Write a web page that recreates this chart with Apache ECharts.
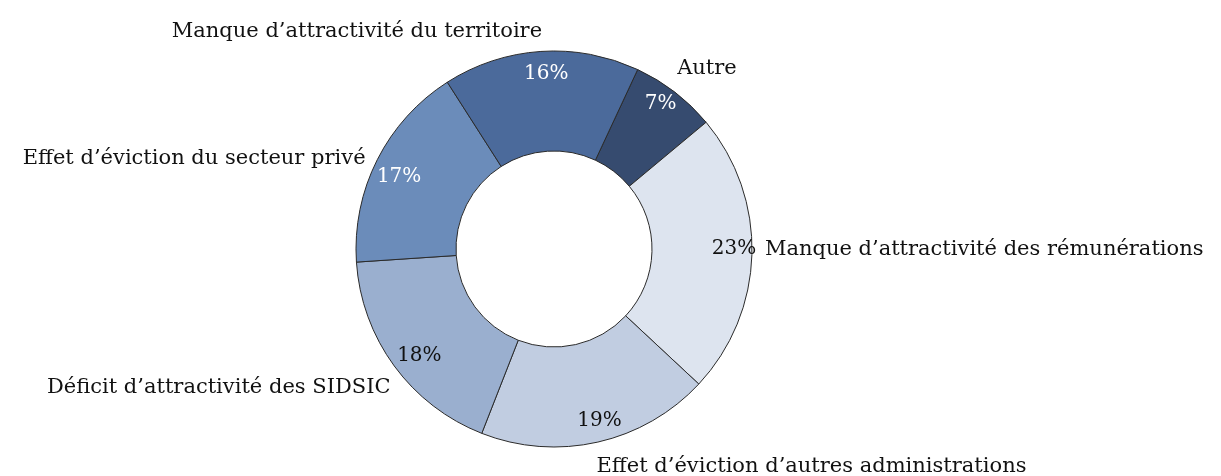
<!DOCTYPE html>
<html>
<head>
<meta charset="utf-8">
<script src="https://cdn.jsdelivr.net/npm/echarts@6/dist/echarts.min.js"></script>
<style>
html,body{margin:0;padding:0;background:#fff;}
#chart{width:1221px;height:476px;}
</style>
</head>
<body>
<div id="chart"></div>
<script>
const categories = [
  "Autre",
  "Manque d’attractivité des rémunérations",
  "Effet d’éviction d’autres administrations",
  "Déficit d’attractivité des SIDSIC",
  "Effet d’éviction du secteur privé",
  "Manque d’attractivité du territoire"
];
const values = [7, 23, 19, 18, 17, 16];
const colors = ["#364b6f", "#dde4ef", "#c1cde1", "#9aafcf", "#6b8cba", "#4b6a9b"];
const pctColors = ["#ffffff", "#111111", "#111111", "#111111", "#ffffff", "#ffffff"];

// small label nudges (style only)
const nameNudge = [[-10, -14], [-4, -5], [-9, 13], [11, 15], [4, 4], [7, -8]];
const pctNudge = [[-2, -4], [2, -5], [6, -2], [9, 2], [4, 8], [4, 2]];

const FONT = "DejaVu Serif";

const chart = echarts.init(document.getElementById('chart'), null, {renderer: 'canvas'});

const center = [554, 249];

const mainData = categories.map((c, i) => ({
  name: c, value: values[i],
  itemStyle: {color: colors[i]}
}));
const pctData = categories.map((c, i) => ({
  name: c, value: values[i],
  label: {color: pctColors[i]}
}));

chart.setOption({
  animation: false,
  series: [
    {
      type: 'pie',
      center: center,
      radius: [98, 198],
      startAngle: 65,
      clockwise: true,
      avoidLabelOverlap: false,
      silent: true,
      itemStyle: {borderColor: '#2a2a2a', borderWidth: 1},
      label: {
        show: true,
        position: 'outside',
        formatter: '{b}',
        fontFamily: FONT,
        fontSize: 21,
        color: '#111'
      },
      labelLine: {show: false, length: 12, length2: 0},
      labelLayout: function (p) {
        const n = nameNudge[p.dataIndex];
        return {dx: n[0], dy: n[1]};
      },
      data: mainData
    },
    {
      type: 'pie',
      center: center,
      radius: [152, 198],
      startAngle: 65,
      clockwise: true,
      silent: true,
      itemStyle: {color: 'rgba(0,0,0,0)', borderWidth: 0},
      label: {
        show: true,
        position: 'inside',
        formatter: '{c}%',
        fontFamily: FONT,
        fontSize: 20
      },
      labelLine: {show: false},
      labelLayout: function (p) {
        const n = pctNudge[p.dataIndex];
        return {dx: n[0], dy: n[1]};
      },
      data: pctData
    }
  ]
});
</script>
</body>
</html>
